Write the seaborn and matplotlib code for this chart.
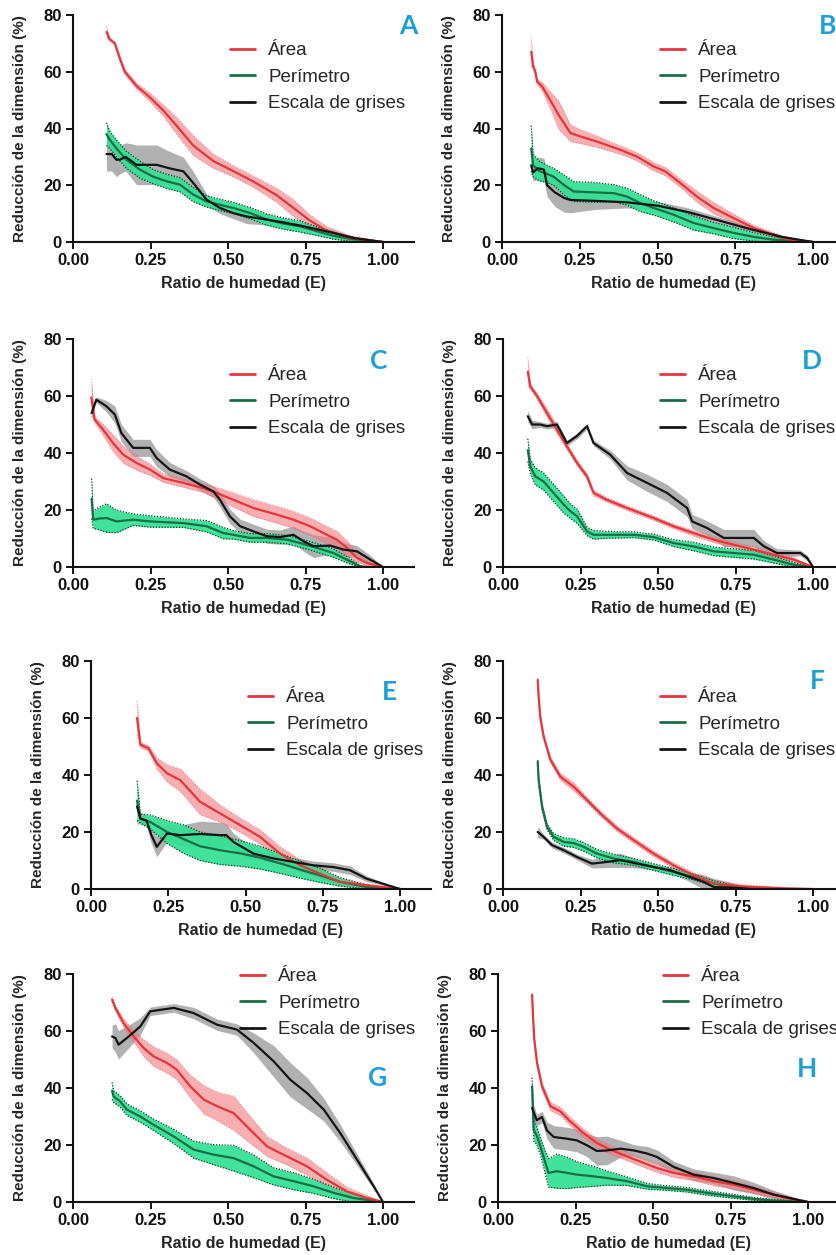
import numpy as np
import matplotlib
matplotlib.use("Agg")
import matplotlib.pyplot as plt
from matplotlib.lines import Line2D
from matplotlib.ticker import FormatStrFormatter
import seaborn as sns

# ---- data: x = ratio de humedad, y = mean (%), e = band half-width ----
A_area_x = [0.108, 0.118, 0.135, 0.15, 0.167, 0.205, 0.248, 0.29, 0.334, 0.388, 0.453, 0.517, 0.582, 0.657, 0.711, 0.765, 0.819, 0.894, 1.0]
A_area_y = [74, 71.5, 70, 65, 60, 55, 51, 46.5, 41, 34, 28.5, 25, 21.3, 16.5, 12, 7.5, 4, 1.5, 0]
A_area_e = [2, 0.5, 0.5, 1, 1, 1, 1.5, 2, 3, 3.5, 2.5, 2, 2, 2.5, 3, 2, 1.5, 0.8, 0]
A_per_x = [0.108, 0.119, 0.14, 0.172, 0.216, 0.259, 0.302, 0.345, 0.388, 0.431, 0.474, 0.517, 0.571, 0.625, 0.679, 0.733, 0.787, 0.84, 0.9, 1.0]
A_per_y = [38, 36, 33, 29, 25.5, 23, 21.4, 20.2, 16.7, 14.3, 13.1, 12, 10.2, 7.9, 6.5, 5.5, 3.8, 2.2, 1, 0]
A_per_e = [4, 3, 3, 3, 3, 2.5, 2.5, 2.5, 2.5, 2, 2, 2, 2, 2, 2, 2, 1.5, 1.2, 0.8, 0]
A_gris_x = [0.108, 0.125, 0.14, 0.151, 0.17, 0.205, 0.27, 0.31, 0.356, 0.388, 0.431, 0.474, 0.517, 0.56, 0.625, 0.679, 0.733, 0.787, 0.84, 0.905, 1.0]
A_gris_y = [31, 31, 29, 29, 30, 27.2, 27.2, 26, 24.9, 20.8, 14.9, 12, 10.2, 9, 7.9, 6.9, 5.8, 4.5, 3.2, 1.4, 0]
A_gris_e = [6, 6, 6, 5, 5, 7, 7, 6, 5, 4, 2, 2, 2, 2.5, 2, 1.5, 1.2, 1, 1, 0.6, 0]

B_area_x = [0.094, 0.1, 0.107, 0.113, 0.129, 0.155, 0.182, 0.22, 0.252, 0.305, 0.38, 0.434, 0.488, 0.525, 0.573, 0.627, 0.68, 0.745, 0.81, 0.873, 0.916, 1.0]
B_area_y = [67, 62, 60, 56.5, 54.8, 50, 44.8, 38.4, 37.2, 35.4, 32.5, 30.1, 26.6, 24.9, 20.8, 16, 12, 8.4, 4.9, 2.6, 1, 0]
B_area_e = [5, 1, 1, 1, 1.5, 3, 5, 3, 2.5, 2, 1.5, 1.5, 1.5, 1.5, 1.5, 2, 2, 1.5, 1, 0.8, 0.5, 0]
B_per_x = [0.094, 0.1, 0.12, 0.145, 0.166, 0.198, 0.23, 0.295, 0.36, 0.402, 0.445, 0.488, 0.552, 0.616, 0.68, 0.745, 0.81, 0.873, 1.0]
B_per_y = [33, 27, 25, 24, 23, 20.2, 17.8, 17.5, 17.2, 16, 13.7, 12, 9.6, 6.7, 4.9, 3.2, 1.8, 0.8, 0]
B_per_e = [8, 4, 3.5, 3, 3, 3.5, 3.5, 3.5, 3, 3, 3, 2.5, 2.5, 2.5, 2, 2, 1.5, 1, 0]
B_gris_x = [0.094, 0.1, 0.115, 0.135, 0.145, 0.17, 0.2, 0.22, 0.3, 0.4, 0.5, 0.6, 0.7, 0.8, 0.9, 1.0]
B_gris_y = [27, 24.5, 26, 25.5, 20, 17.5, 15.5, 14.8, 14.5, 14, 12.8, 10.5, 7.5, 4.5, 1.8, 0]
B_gris_e = [3, 3, 4, 4, 4, 5, 5, 4.5, 3, 2, 1.5, 1.5, 1.2, 1, 0.6, 0]

C_area_x = [0.059, 0.07, 0.097, 0.129, 0.162, 0.205, 0.248, 0.291, 0.356, 0.42, 0.463, 0.517, 0.582, 0.657, 0.711, 0.765, 0.819, 0.851, 0.884, 0.916, 0.948, 1.0]
C_area_y = [59.5, 51.7, 48.2, 43.5, 39.4, 36.5, 34.2, 31.2, 29.5, 27.7, 26, 23.6, 20.7, 18.4, 16.6, 14.3, 11.3, 9.6, 6.7, 3.2, 1.4, 0]
C_area_e = [6.5, 1, 2, 3, 3, 2.5, 2, 1.5, 1.5, 1.5, 2, 2.5, 3, 3, 3, 3, 3, 3, 2.5, 1.5, 1, 0]
C_per_x = [0.06, 0.065, 0.085, 0.108, 0.14, 0.194, 0.248, 0.356, 0.431, 0.485, 0.517, 0.571, 0.625, 0.69, 0.733, 0.787, 0.84, 0.894, 0.927, 0.95]
C_per_y = [24, 16.6, 17, 17.2, 16, 16.6, 16, 15.4, 14.3, 11.9, 11.3, 10.2, 10.2, 9.6, 8.4, 6.7, 4.9, 2, 0.2, 0]
C_per_e = [7, 3, 4, 5, 4, 2, 2, 1.5, 2, 2, 1.5, 1.5, 1.5, 1.5, 1.5, 1.5, 1.5, 1, 0.3, 0]
C_gris_x = [0.06, 0.075, 0.108, 0.135, 0.156, 0.194, 0.248, 0.27, 0.312, 0.366, 0.41, 0.453, 0.474, 0.506, 0.539, 0.582, 0.625, 0.668, 0.711, 0.744, 0.776, 0.83, 0.873, 0.916, 0.959, 1.0]
C_gris_y = [54, 58.7, 56.4, 53.5, 47, 41.8, 41.8, 38.2, 34.2, 31.8, 28.9, 26.5, 23.6, 17.8, 14.3, 12.5, 10.8, 10.5, 11.3, 9, 7.3, 7.5, 6.1, 5.5, 2.6, 0]
C_gris_e = [1, 1, 2, 3, 3, 3, 3, 3, 2.5, 2, 2, 2, 2.5, 2.5, 2.5, 2.5, 2.5, 2.5, 3, 3.5, 4, 3, 2.5, 2, 1.5, 0]

D_area_x = [0.08, 0.088, 0.11, 0.142, 0.174, 0.206, 0.239, 0.271, 0.292, 0.335, 0.4, 0.486, 0.55, 0.615, 0.68, 0.744, 0.809, 0.873, 0.938, 1.0]
D_area_y = [68.5, 63.4, 59.9, 54, 48.2, 42.3, 36.5, 31.8, 26, 23.6, 20.7, 17.2, 14.3, 11.9, 9.6, 7.8, 6.1, 4.3, 2.6, 0]
D_area_e = [5, 1, 1, 1.5, 1.5, 1, 1, 1, 1, 0.8, 0.8, 0.8, 0.8, 1, 1, 1, 1, 1, 0.8, 0]
D_per_x = [0.08, 0.088, 0.104, 0.131, 0.163, 0.196, 0.217, 0.239, 0.271, 0.292, 0.335, 0.422, 0.486, 0.55, 0.615, 0.68, 0.744, 0.809, 0.873, 0.938, 1.0]
D_per_y = [41, 35.3, 31.8, 30, 26, 21.9, 19.6, 17.8, 12.5, 11.3, 11.3, 11.3, 10.5, 8.4, 7.2, 5.5, 4.9, 4.3, 2.6, 0.8, 0]
D_per_e = [4, 2.5, 3, 3, 3, 3, 2.5, 2.5, 1.5, 1.5, 1.2, 1, 1, 1.2, 1.5, 1.5, 1.5, 1.5, 1.2, 0.8, 0]
D_gris_x = [0.08, 0.094, 0.12, 0.142, 0.174, 0.206, 0.239, 0.271, 0.292, 0.346, 0.4, 0.465, 0.529, 0.594, 0.61, 0.658, 0.712, 0.766, 0.809, 0.841, 0.884, 0.959, 0.981, 1.0]
D_gris_y = [52.9, 50, 50, 49.4, 50, 43.5, 46, 49.4, 43.5, 39.4, 33, 29.5, 26, 20.7, 16, 13.7, 10.2, 10.2, 10.2, 7.3, 4.9, 4.9, 3.2, 0]
D_gris_e = [2, 1.5, 1, 1, 1, 1, 1, 1, 1, 1.5, 2.5, 3, 3, 3, 2.5, 2.5, 3, 3, 3, 2, 1.5, 1, 1, 0]

E_area_x = [0.149, 0.16, 0.186, 0.213, 0.246, 0.289, 0.353, 0.418, 0.483, 0.547, 0.612, 0.677, 0.741, 0.806, 0.892, 1.0]
E_area_y = [60, 50.6, 49.4, 44.1, 40.6, 38.2, 30.6, 26.5, 22.4, 18.3, 12.4, 8.3, 5.4, 2.5, 1.3, 0]
E_area_e = [6, 1, 1, 2, 3, 4, 4.5, 3, 2.5, 2.5, 2.5, 2, 1.5, 1, 0.6, 0]
E_per_x = [0.149, 0.16, 0.192, 0.246, 0.3, 0.353, 0.418, 0.483, 0.547, 0.612, 0.677, 0.741, 0.806, 0.892, 1.0]
E_per_y = [31, 24.7, 23.5, 20, 17.5, 15, 13.6, 12.5, 11, 9, 6.8, 4.8, 2.5, 0.7, 0]
E_per_e = [7, 1.5, 2.5, 4, 5, 5, 5, 4.5, 4, 3.5, 3, 2.5, 1.5, 0.7, 0]
E_gris_x = [0.149, 0.16, 0.18, 0.195, 0.213, 0.246, 0.289, 0.353, 0.418, 0.438, 0.461, 0.526, 0.591, 0.655, 0.72, 0.784, 0.838, 0.892, 1.0]
E_gris_y = [29, 24.7, 24, 19, 14.8, 19.5, 18.9, 19.3, 18.9, 18.9, 16.5, 12.4, 10.7, 9.5, 8.3, 7.7, 6.6, 3.6, 0]
E_gris_e = [6, 2, 2, 3, 3.5, 3, 3.5, 4.5, 4.5, 4, 3, 2, 1.5, 1.5, 1.5, 1.5, 1.5, 1, 0]

F_area_x = [0.112, 0.115, 0.12, 0.131, 0.153, 0.185, 0.228, 0.271, 0.314, 0.368, 0.422, 0.486, 0.55, 0.615, 0.68, 0.744, 0.809, 0.916, 1.0]
F_area_y = [73.4, 67.5, 60.5, 53.5, 45.3, 39.4, 35.9, 31.2, 26.5, 21.2, 17.1, 12.4, 8.3, 4.8, 1.9, 1.1, 0.7, 0.2, 0]
F_area_e = [0.5, 1, 1, 1, 1, 1.2, 1.5, 1, 1, 1, 1, 1, 1, 1, 1, 0.8, 0.6, 0.3, 0]
F_per_x = [0.112, 0.115, 0.126, 0.142, 0.163, 0.196, 0.228, 0.26, 0.303, 0.357, 0.422, 0.486, 0.55, 0.615, 0.68, 0.744, 0.8]
F_per_y = [44.7, 38.2, 28.9, 21.8, 18.3, 16.5, 16.1, 14.8, 12.4, 10.7, 9.5, 7.7, 6, 4.2, 1.9, 0.7, 0]
F_per_e = [0.5, 1, 1, 1, 1.2, 1.5, 1.5, 1.5, 1.5, 1.5, 1.2, 1.2, 1.2, 1, 1, 0.6, 0]
F_gris_x = [0.112, 0.131, 0.158, 0.196, 0.239, 0.287, 0.335, 0.378, 0.432, 0.486, 0.54, 0.594, 0.647, 0.68, 0.755, 0.8]
F_gris_y = [20, 18.3, 15.4, 13.6, 11.2, 8.9, 9.5, 10.1, 8.9, 7.7, 6.6, 4.5, 2.5, 0.7, 0.4, 0]
F_gris_e = [2, 0.8, 1, 1, 1, 1.5, 2, 2.5, 1.5, 1, 1, 1.5, 2.5, 3, 1.5, 0]

G_area_x = [0.126, 0.137, 0.163, 0.196, 0.228, 0.26, 0.303, 0.335, 0.378, 0.422, 0.465, 0.518, 0.561, 0.626, 0.69, 0.755, 0.819, 0.884, 0.948, 1.0]
G_area_y = [71, 68, 62.8, 58.1, 54, 51.1, 48.8, 46.4, 40.6, 35.9, 33.6, 31.2, 26.5, 19.5, 16, 12.5, 7.8, 3.7, 1.4, 0]
G_area_e = [1, 1, 1.5, 2, 3, 3.5, 3.5, 3.5, 4, 5, 5, 6, 5, 3.5, 3, 3, 2.5, 1.5, 1, 0]
G_per_x = [0.126, 0.131, 0.152, 0.174, 0.217, 0.26, 0.325, 0.389, 0.454, 0.518, 0.583, 0.647, 0.712, 0.776, 0.841, 0.905, 1.0]
G_per_y = [39, 37, 35.3, 32.4, 30, 27.1, 23, 18.4, 16.6, 15.4, 12.5, 9, 7.3, 5.5, 3.2, 1.4, 0]
G_per_e = [3, 2, 2, 2, 2, 2, 2.5, 3, 3.5, 4.5, 4, 3, 3, 2.5, 2, 1.5, 0]
G_gris_x = [0.126, 0.137, 0.147, 0.18, 0.217, 0.249, 0.325, 0.389, 0.465, 0.529, 0.583, 0.647, 0.701, 0.755, 0.809, 0.862, 0.916, 0.97, 1.0]
G_gris_y = [58.1, 57.5, 55.2, 58.1, 61.6, 66.9, 68.1, 66.3, 62.2, 60.5, 55.8, 49.4, 42.9, 38.2, 32.4, 24.2, 14.9, 5.5, 0]
G_gris_e = [4, 5, 5, 4, 3, 1.5, 1.5, 2, 2, 2, 3.5, 5.5, 6, 5.5, 4, 3, 2, 1, 0]

H_area_x = [0.11, 0.113, 0.117, 0.126, 0.142, 0.169, 0.201, 0.233, 0.276, 0.319, 0.362, 0.416, 0.47, 0.513, 0.567, 0.631, 0.696, 0.76, 0.825, 0.889, 0.932, 1.0]
H_area_y = [72.7, 65, 57, 48.8, 40.6, 33.6, 31.8, 28.3, 24.2, 20.7, 18.4, 16, 13.7, 11.9, 10.2, 9, 7.3, 6.1, 4.3, 2.6, 1.4, 0]
H_area_e = [0.5, 1, 1, 1, 1.2, 1.5, 1.5, 1.5, 1.5, 1.5, 1.5, 1.5, 1.5, 1.5, 1.5, 1.5, 1.5, 1.5, 1.2, 1, 0.8, 0]
H_per_x = [0.11, 0.115, 0.126, 0.137, 0.153, 0.163, 0.19, 0.223, 0.255, 0.309, 0.352, 0.416, 0.481, 0.545, 0.61, 0.674, 0.76, 0.825, 0.889, 1.0]
H_per_y = [40.6, 25.4, 23, 19.5, 13.7, 10.2, 10.8, 10.2, 9.6, 9, 8.4, 7.3, 5.5, 4.9, 4.3, 3.2, 2, 1.1, 0.5, 0]
H_per_e = [3, 4, 3, 3, 4, 5, 6, 5.5, 4.5, 3.5, 2.5, 1.5, 1, 0.8, 0.8, 0.8, 0.7, 0.5, 0.4, 0]
H_gris_x = [0.11, 0.125, 0.142, 0.158, 0.18, 0.223, 0.255, 0.287, 0.319, 0.352, 0.395, 0.438, 0.481, 0.513, 0.567, 0.631, 0.696, 0.76, 0.825, 0.889, 1.0]
H_gris_y = [33, 28.7, 29.8, 25.1, 22.8, 22.2, 21.6, 19.9, 17.9, 18.1, 18.7, 18.1, 17, 15.8, 12.3, 9.6, 8.4, 6.7, 4.9, 2.6, 0]
H_gris_e = [3, 2, 2, 3, 4, 4, 4, 4, 5, 5, 3, 2, 2.5, 2.5, 2, 2, 2, 2.5, 2, 1.5, 0]

series_names = ["Área", "Perímetro", "Escala de grises"]
panel_letters = ["A", "B", "C", "D", "E", "F", "G", "H"]
x_ticks = [0.0, 0.25, 0.5, 0.75, 1.0]
y_ticks = [0, 20, 40, 60, 80]

# ---- styling ----
sns.set_style("ticks")
plt.rcParams["font.family"] = ["Liberation Sans", "DejaVu Sans"]

RED, RED_FILL = "#e8343c", "#f27a80"
GREEN, GREEN_FILL, GREEN_EDGE = "#1a6e45", "#30e094", "#0e3f27"
BLACK, GREY_FILL = "#141414", "#a4a4a4"
LETTER = "#1d9fd8"

W, H = 836, 1255
fig = plt.figure(figsize=(W / 100, H / 100), dpi=100)

# layout of each panel in pixels: y-axis x, pixels per unit of E, top (y=80), bottom (y=0),
# legend anchor (x, y), letter centre (x, y)
layout = {
    "A": (73, 310, 15, 242, (230, 42), (408, 26)),
    "B": (502, 311, 15, 242, (660, 42), (828, 26)),
    "C": (73, 310, 339, 567, (230, 367), (379, 361)),
    "D": (503, 310, 339, 567, (660, 367), (812, 361)),
    "E": (91, 309, 661, 889, (248, 689), (389, 692)),
    "F": (503, 310, 661, 889, (660, 689), (817, 681)),
    "G": (73, 310, 974, 1202, (240, 968), (378, 1078)),
    "H": (498, 310, 974, 1202, (663, 968), (807, 1069)),
}

data = {
    "A": [(A_area_x, A_area_y, A_area_e), (A_per_x, A_per_y, A_per_e), (A_gris_x, A_gris_y, A_gris_e)],
    "B": [(B_area_x, B_area_y, B_area_e), (B_per_x, B_per_y, B_per_e), (B_gris_x, B_gris_y, B_gris_e)],
    "C": [(C_area_x, C_area_y, C_area_e), (C_per_x, C_per_y, C_per_e), (C_gris_x, C_gris_y, C_gris_e)],
    "D": [(D_area_x, D_area_y, D_area_e), (D_per_x, D_per_y, D_per_e), (D_gris_x, D_gris_y, D_gris_e)],
    "E": [(E_area_x, E_area_y, E_area_e), (E_per_x, E_per_y, E_per_e), (E_gris_x, E_gris_y, E_gris_e)],
    "F": [(F_area_x, F_area_y, F_area_e), (F_per_x, F_per_y, F_per_e), (F_gris_x, F_gris_y, F_gris_e)],
    "G": [(G_area_x, G_area_y, G_area_e), (G_per_x, G_per_y, G_per_e), (G_gris_x, G_gris_y, G_gris_e)],
    "H": [(H_area_x, H_area_y, H_area_e), (H_per_x, H_per_y, H_per_e), (H_gris_x, H_gris_y, H_gris_e)],
}

# (line colour, fill colour, fill alpha, edge colour or None, edge alpha)
styles = [
    (RED, RED_FILL, 0.6, "#e0505a", 0.45),
    (GREEN, GREEN_FILL, 0.92, GREEN_EDGE, 1.0),
    (BLACK, GREY_FILL, 0.85, None, 0),
]


def band(ax, x, y, e, fill_c, alpha, edge_c, edge_a):
    y = np.asarray(y, float)
    e = np.asarray(e, float)
    lo, hi = y - e, y + e
    ax.fill_between(x, lo, hi, color=fill_c, alpha=alpha, lw=0)
    if edge_c is not None:
        for b in (lo, hi):
            sns.lineplot(x=x, y=b, ax=ax, color=edge_c, lw=0.9, ls=(0, (1, 1.3)), alpha=edge_a,
                         estimator=None, sort=False, legend=False)


for letter in panel_letters:
    left, unit, top, bottom, leg, let = layout[letter]
    ax = fig.add_axes([left / W, 1 - bottom / H, 1.1 * unit / W, (bottom - top) / H])

    # bands first: grey, red, green
    for i in (2, 0, 1):
        x, y, e = data[letter][i]
        band(ax, x, y, e, *styles[i][1:])
    for i in (1, 0, 2):
        x, y, e = data[letter][i]
        sns.lineplot(x=x, y=y, ax=ax, color=styles[i][0], lw=1.6,
                     estimator=None, sort=False, legend=False)

    ax.set_xlim(0, 1.1)
    ax.set_ylim(0, 80)
    ax.set_xticks(x_ticks)
    ax.set_yticks(y_ticks)
    ax.xaxis.set_major_formatter(FormatStrFormatter("%.2f"))
    sns.despine(ax=ax)
    for s in ("left", "bottom"):
        ax.spines[s].set_linewidth(1.5)
        ax.spines[s].set_color("#111111")
    ax.tick_params(direction="out", length=5, width=1.4, labelsize=12, pad=3, colors="#111111")
    for t in ax.get_xticklabels() + ax.get_yticklabels():
        t.set_fontweight("bold")

    ax.set_xlabel("Ratio de humedad (E)", fontsize=11.5, fontweight="bold", labelpad=6)
    ax.set_ylabel("Reducción de la dimensión (%)", fontsize=11, fontweight="bold", labelpad=12)

    handles = [Line2D([], [], color=styles[i][0], lw=2) for i in range(3)]
    ax.legend(handles, series_names, loc="upper left",
              bbox_to_anchor=(leg[0] / W, 1 - leg[1] / H), bbox_transform=fig.transFigure,
              frameon=False, borderpad=0, borderaxespad=0, handlelength=1.35,
              handletextpad=0.7, labelspacing=0.5, fontsize=13.5)

    fig.text(let[0] / W, 1 - let[1] / H, letter, color=LETTER, fontsize=19,
             fontweight="bold", ha="center", va="center", family=["Lato", "DejaVu Sans"])

fig.savefig("out.png", dpi=100)
